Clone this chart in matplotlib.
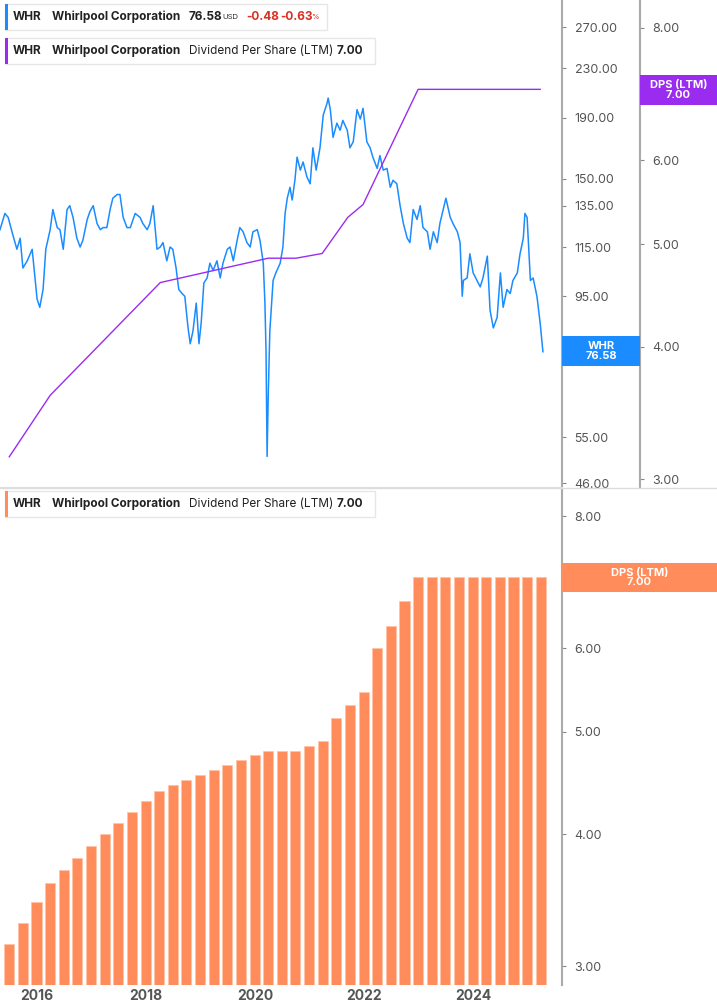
import numpy as np
import matplotlib
matplotlib.use("Agg")
import matplotlib.pyplot as plt
from matplotlib.patches import Rectangle
from matplotlib.ticker import FixedLocator, NullLocator, FormatStrFormatter

plt.rcParams["font.family"] = "Inter"

# WHR daily-ish close, decimal years
price_dates = [2015.32, 2015.41, 2015.47, 2015.54, 2015.63, 2015.69, 2015.74, 2015.82, 2015.91, 2016.00,
               2016.05, 2016.11, 2016.16, 2016.24, 2016.29, 2016.37, 2016.42, 2016.48, 2016.55, 2016.60,
               2016.66, 2016.73, 2016.79, 2016.84, 2016.92, 2016.97, 2017.03, 2017.10, 2017.16, 2017.21,
               2017.28, 2017.34, 2017.39, 2017.47, 2017.52, 2017.58, 2017.65, 2017.71, 2017.80, 2017.89,
               2017.94, 2018.02, 2018.07, 2018.13, 2018.20, 2018.26, 2018.31, 2018.38, 2018.44, 2018.49,
               2018.55, 2018.60, 2018.66, 2018.71, 2018.77, 2018.81, 2018.86, 2018.92, 2018.97, 2019.01,
               2019.06, 2019.12, 2019.17, 2019.23, 2019.30, 2019.36, 2019.41, 2019.49, 2019.54, 2019.60,
               2019.67, 2019.72, 2019.78, 2019.85, 2019.91, 2019.96, 2020.04, 2020.09, 2020.15, 2020.18,
               2020.20, 2020.22, 2020.24, 2020.27, 2020.33, 2020.38, 2020.46, 2020.51, 2020.55, 2020.59,
               2020.64, 2020.68, 2020.73, 2020.77, 2020.83, 2020.88, 2020.95, 2021.01, 2021.06, 2021.12,
               2021.19, 2021.25, 2021.32, 2021.34, 2021.38, 2021.43, 2021.50, 2021.56, 2021.61, 2021.69,
               2021.74, 2021.80, 2021.87, 2021.93, 2021.98, 2022.05, 2022.11, 2022.16, 2022.24, 2022.29,
               2022.35, 2022.42, 2022.48, 2022.53, 2022.60, 2022.66, 2022.72, 2022.79, 2022.84, 2022.90,
               2022.97, 2023.03, 2023.08, 2023.16, 2023.21, 2023.27, 2023.34, 2023.39, 2023.45, 2023.50,
               2023.58, 2023.63, 2023.71, 2023.76, 2023.80, 2023.82, 2023.89, 2023.94, 2024.00, 2024.07,
               2024.13, 2024.18, 2024.26, 2024.31, 2024.37, 2024.44, 2024.50, 2024.55, 2024.62, 2024.68,
               2024.73, 2024.81, 2024.86, 2024.92, 2024.95, 2024.99, 2025.05, 2025.10, 2025.17, 2025.23,
               2025.27, 2025.28]
price = [123, 131, 129, 122, 114, 119, 106, 109, 114, 94,
         91, 97.5, 114, 123, 133, 124, 123, 114, 133, 135,
         129, 119, 115, 118, 128, 132, 135, 126, 123, 124,
         124, 133, 139, 141, 141, 129, 124, 124, 131, 129,
         126, 123, 126, 135, 114, 115, 117, 109, 115, 114,
         106, 97.5, 96, 95, 84, 79, 83, 92.5, 79, 85.5,
         100, 102, 108, 105, 109, 102, 108, 114, 115, 109,
         118, 124, 122, 117, 115, 122, 123, 118, 108, 92.5,
         77, 51, 64, 83, 101, 104, 108, 115, 131, 139,
         145, 138, 149, 163, 155, 160, 151, 147, 169, 155,
         169, 192, 201, 205, 196, 176, 186, 181, 188, 181,
         169, 173, 196, 189, 197, 173, 169, 163, 156, 164,
         155, 156, 145, 149, 147, 135, 126, 119, 117, 133,
         128, 135, 124, 122, 114, 122, 117, 126, 133, 139,
         129, 126, 122, 117, 95, 101, 102, 112, 104, 101,
         98.5, 102, 111, 90, 84, 87.5, 104, 91, 97.5, 96,
         101, 104, 112, 119, 131, 129, 101, 102, 95, 85.5,
         78, 76.58]

# Dividend per share (LTM) line, top panel
dps_line_dates = [2015.49, 2016.24, 2018.26, 2020.24, 2020.75, 2021.23, 2021.70, 2021.98, 2022.99, 2025.23]
dps_line = [3.15, 3.60, 4.60, 4.85, 4.85, 4.90, 5.30, 5.45, 7.00, 7.00]

# Quarterly DPS (LTM) bars, bottom panel
bar_start = 2015.49
dps_bars = [3.15, 3.30, 3.45, 3.60, 3.70, 3.80, 3.90, 4.00, 4.10, 4.20,
            4.30, 4.40, 4.45, 4.50, 4.55, 4.60, 4.65, 4.70, 4.75, 4.80,
            4.80, 4.80, 4.85, 4.90, 5.15, 5.30, 5.45, 6.00, 6.30, 6.65,
            7.00, 7.00, 7.00, 7.00, 7.00, 7.00, 7.00, 7.00, 7.00, 7.00]
bar_dates = [bar_start + 0.25 * i for i in range(len(dps_bars))]

price_ticks = [46, 55, 95, 115, 135, 150, 190, 230, 270]
dps_ticks = [3, 4, 5, 6, 8]
bar_ticks = [3, 4, 5, 6, 8]
year_ticks = [2016, 2018, 2020, 2022, 2024]

BLUE = "#1a8cff"
PURPLE = "#9a2cf0"
ORANGE = "#ff8c5a"
GRAY = "#555555"

W, H = 717, 1005
fig = plt.figure(figsize=(W / 100, H / 100), dpi=100)
xl = (2015.32, 2025.63)
aw = 562 / W

def style_axis(ax, ticks, lim):
    ax.set_yscale("log")
    ax.set_ylim(*lim)
    ax.yaxis.set_major_locator(FixedLocator(ticks))
    ax.yaxis.set_minor_locator(NullLocator())
    ax.yaxis.set_major_formatter(FormatStrFormatter("%.2f"))
    ax.yaxis.set_ticks_position("right")
    ax.tick_params(axis="y", which="both", left=False, labelleft=False, right=True, labelright=True,
                   length=3, color="#888888", labelcolor=GRAY, labelsize=9, pad=6)

# top panel
ax1 = fig.add_axes([0, (H - 487) / H, aw, 487 / H])
ax1.plot(price_dates, price, color=BLUE, lw=1.1)
ax1.set_xlim(*xl)
ax1.set_xticks([])
ax2 = ax1.twinx()
style_axis(ax1, price_ticks, (45.3, 300))
for s in ["top", "left"]:
    ax1.spines[s].set_visible(False)
ax1.spines["bottom"].set_color("#dddddd")
ax1.spines["right"].set_color("#aaaaaa")
ax1.spines["right"].set_linewidth(1.5)

ax2.plot(dps_line_dates, dps_line, color=PURPLE, lw=1.0)
style_axis(ax2, dps_ticks, (2.95, 8.5))
ax2.spines["right"].set_position(("axes", 640 / 562))
ax2.spines["right"].set_color("#aaaaaa")
ax2.spines["right"].set_linewidth(1.5)
for s in ["top", "left", "bottom"]:
    ax2.spines[s].set_visible(False)

# bottom panel
ax3 = fig.add_axes([0, 20 / H, aw, 495 / H])
ax3.bar(bar_dates, dps_bars, width=0.185, color=ORANGE, edgecolor="#ffc4a8", linewidth=0.6)
ax3.set_xlim(*xl)
style_axis(ax3, bar_ticks, (2.88, 8.47))
ax3.set_xticks(year_ticks)
ax3.set_xticklabels([str(y) for y in year_ticks], fontweight="bold", color=GRAY, fontsize=10)
ax3.tick_params(axis="x", length=0, pad=3)
for s in ["top", "left", "bottom"]:
    ax3.spines[s].set_visible(False)
ax3.spines["right"].set_color("#aaaaaa")
ax3.spines["right"].set_linewidth(1.5)
fig.add_artist(plt.Line2D([0, 1], [(H - 488) / H] * 2, color="#dddddd", lw=1))

# legend boxes
def legend_box(y, w, color, parts):
    top = (H - y) / H
    fig.add_artist(Rectangle((5 / W, top - 26 / H), w / W, 26 / H, transform=fig.transFigure,
                             facecolor="white", edgecolor="#e6e6e6", lw=1))
    fig.add_artist(Rectangle((5 / W, top - 26 / H), 3 / W, 26 / H, transform=fig.transFigure,
                             facecolor=color, edgecolor="none"))
    for x, txt, kw in parts:
        fig.text(x / W, top - 13 / H, txt, va="center", ha="left", **kw)

bold = dict(fontsize=8.5, fontweight="bold", color="#222222")
norm = dict(fontsize=8.5, color="#222222")
red = dict(fontsize=8.5, fontweight="bold", color="#d93025")
legend_box(4, 322, BLUE, [(13, "WHR", bold), (52, "Whirlpool Corporation", bold),
                          (189, "76.58", bold), (222, "USD", dict(fontsize=5.5, color="#333333")),
                          (246, "-0.48", red), (280, "-0.63", red),
                          (311, "%", dict(fontsize=5.5, color="#d93025"))])
legend_box(38, 370, PURPLE, [(13, "WHR", bold), (52, "Whirlpool Corporation", bold),
                             (189, "Dividend Per Share (LTM)", norm), (337, "7.00", bold)])
legend_box(491, 370, ORANGE, [(13, "WHR", bold), (52, "Whirlpool Corporation", bold),
                              (189, "Dividend Per Share (LTM)", norm), (337, "7.00", bold)])

# value badges
def badge(x0, x1, y0, y1, color, lines):
    fig.add_artist(Rectangle((x0 / W, (H - y1) / H), (x1 - x0) / W, (y1 - y0) / H,
                             transform=fig.transFigure, facecolor=color, edgecolor="none"))
    fig.text((x0 + x1) / 2 / W, (H - (y0 + y1) / 2) / H, lines, ha="center", va="center",
             color="white", fontsize=8, fontweight="bold", linespacing=0.95)

badge(562, 640, 336, 366, BLUE, "WHR\n76.58")
badge(640, 717, 75, 105, PURPLE, "DPS (LTM)\n7.00")
badge(562, 717, 563, 592, ORANGE, "DPS (LTM)\n7.00")

fig.savefig("out.png", dpi=100)
